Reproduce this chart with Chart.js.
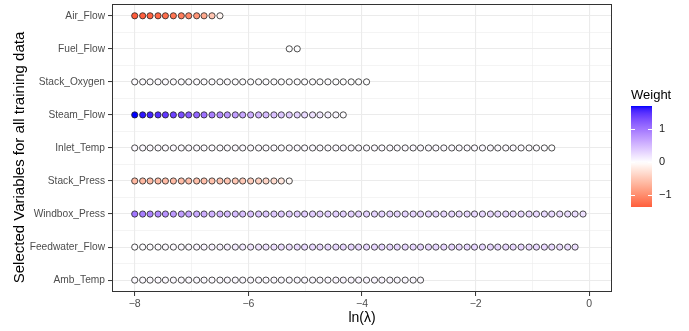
<!DOCTYPE html>
<html><head><meta charset="utf-8">
<script src="https://cdn.jsdelivr.net/npm/chart.js@4"></script>
<style>html,body{margin:0;padding:0;background:#fff}canvas{display:block}</style>
</head><body>
<canvas id="c" width="689" height="331"></canvas>
<script>
// ---------- DATA ----------
const categories = ["Air_Flow","Fuel_Flow","Stack_Oxygen","Steam_Flow","Inlet_Temp","Stack_Press","Windbox_Press","Feedwater_Flow","Amb_Temp"];
const lnLambda = [-8.00,-7.86,-7.73,-7.59,-7.46,-7.32,-7.18,-7.05,-6.91,-6.78,
  -6.64,-6.50,-6.37,-6.23,-6.10,-5.96,-5.82,-5.69,-5.55,-5.42,
  -5.28,-5.14,-5.01,-4.87,-4.74,-4.60,-4.46,-4.33,-4.19,-4.06,
  -3.92,-3.78,-3.65,-3.51,-3.38,-3.24,-3.10,-2.97,-2.83,-2.70,
  -2.56,-2.42,-2.29,-2.15,-2.02,-1.88,-1.74,-1.61,-1.47,-1.34,
  -1.20,-1.06,-0.93,-0.79,-0.66,-0.52,-0.38,-0.25,-0.11];
// index into lnLambda where each variable's path starts
const startIndex = [0,20,0,0,0,0,0,0,0];
const airFlow = [-1.35,-1.33,-1.30,-1.27,-1.23,-1.18,-1.12,-1.04,-0.93,-0.75,-0.52,-0.08];
const fuelFlow = [0.01,0.01];
const stackOxygen = [0.03,0.03,0.03,0.03,0.03,0.03,0.03,0.03,0.03,0.03,
  0.03,0.03,0.03,0.02,0.02,0.02,0.02,0.02,0.02,0.02,
  0.02,0.02,0.02,0.02,0.02,0.02,0.01,0.01,0.01,0.01,0.01];
const steamFlow = [1.70,1.64,1.58,1.52,1.45,1.38,1.30,1.21,1.12,1.03,
  0.94,0.85,0.77,0.70,0.64,0.58,0.53,0.49,0.45,0.41,
  0.37,0.32,0.27,0.22,0.16,0.11,0.06,0.02];
const inletTemp = [0.04,0.04,0.04,0.04,0.04,0.04,0.04,0.04,0.04,0.04,
  0.04,0.04,0.04,0.04,0.04,0.04,0.04,0.04,0.04,0.04,
  0.05,0.05,0.05,0.05,0.05,0.05,0.05,0.05,0.05,0.05,
  0.05,0.05,0.05,0.05,0.05,0.05,0.05,0.05,0.05,0.05,
  0.05,0.05,0.05,0.05,0.05,0.05,0.05,0.04,0.04,0.04,
  0.04,0.03,0.03,0.02,0.01];
const stackPress = [-0.62,-0.62,-0.61,-0.61,-0.60,-0.60,-0.59,-0.58,-0.57,-0.56,
  -0.55,-0.54,-0.52,-0.50,-0.48,-0.45,-0.42,-0.38,-0.32,-0.22,-0.05];
const windboxPress = [1.00,0.95,0.90,0.85,0.80,0.75,0.71,0.67,0.63,0.59,
  0.56,0.53,0.50,0.48,0.46,0.44,0.42,0.41,0.40,0.39,
  0.38,0.37,0.36,0.36,0.35,0.35,0.34,0.34,0.33,0.33,
  0.33,0.32,0.32,0.32,0.31,0.31,0.31,0.31,0.30,0.30,
  0.30,0.30,0.30,0.30,0.29,0.29,0.29,0.29,0.29,0.28,
  0.28,0.28,0.28,0.27,0.27,0.26,0.25,0.24,0.22];
const feedwaterFlow = [0.02,0.02,0.03,0.03,0.04,0.04,0.05,0.06,0.07,0.08,
  0.09,0.10,0.12,0.14,0.16,0.18,0.20,0.22,0.23,0.24,
  0.25,0.26,0.27,0.28,0.28,0.29,0.29,0.30,0.30,0.30,
  0.30,0.30,0.30,0.30,0.30,0.30,0.30,0.30,0.30,0.30,
  0.30,0.30,0.30,0.30,0.30,0.30,0.30,0.30,0.29,0.29,
  0.29,0.29,0.28,0.28,0.27,0.26,0.25,0.23];
const ambTemp = [0.04,0.04,0.04,0.04,0.04,0.04,0.04,0.04,0.04,0.04,
  0.04,0.04,0.05,0.05,0.05,0.05,0.05,0.05,0.05,0.05,
  0.06,0.06,0.06,0.06,0.06,0.06,0.07,0.07,0.07,0.07,
  0.07,0.07,0.07,0.07,0.06,0.06,0.05,0.04];
const weights = [airFlow,fuelFlow,stackOxygen,steamFlow,inletTemp,stackPress,windboxPress,feedwaterFlow,ambTemp];
const xMajorTicks = [-8,-6,-4,-2,0];
const xAllTicks = [-8,-7,-6,-5,-4,-3,-2,-1,0];
const legendTicks = [1,0,-1];

// ---------- COLOUR SCALE (gradient2 in Lab: red - white - blue) ----------
function toLin(c){c/=255;return c<=0.04045?c/12.92:Math.pow((c+0.055)/1.055,2.4);}
function toS(c){c=c<=0.0031308?12.92*c:1.055*Math.pow(c,1/2.4)-0.055;return Math.round(Math.max(0,Math.min(1,c))*255);}
function rgb2lab(r,g,b){r=toLin(r);g=toLin(g);b=toLin(b);
  let X=(0.4124*r+0.3576*g+0.1805*b)/0.95047,Y=0.2126*r+0.7152*g+0.0722*b,Z=(0.0193*r+0.1192*g+0.9505*b)/1.08883;
  const f=t=>t>0.008856?Math.cbrt(t):7.787*t+16/116;
  const fx=f(X),fy=f(Y),fz=f(Z);return [116*fy-16,500*(fx-fy),200*(fy-fz)];}
function lab2rgb(L,a,b){const fy=(L+16)/116,fx=fy+a/500,fz=fy-b/200;
  const fi=t=>t*t*t>0.008856?t*t*t:(t-16/116)/7.787;
  const X=fi(fx)*0.95047,Y=fi(fy),Z=fi(fz)*1.08883;
  const r=3.2406*X-1.5372*Y-0.4986*Z,g=-0.9689*X+1.8758*Y+0.0415*Z,bb=0.0557*X-0.2040*Y+1.0570*Z;
  return [toS(r),toS(g),toS(bb)];}
const LOW=rgb2lab(255,0,0), MID=rgb2lab(255,255,255), HIGH=rgb2lab(0,0,255);
const allW=[].concat(...weights);
const wMin=Math.min(...allW), wMax=Math.max(...allW);
const wAbs=Math.max(Math.abs(wMin),Math.abs(wMax));
function colorOf(w){
  const t=0.5+w/(2*wAbs);
  let A,B,u;
  if(t<0.5){A=LOW;B=MID;u=t/0.5;}else{A=MID;B=HIGH;u=(t-0.5)/0.5;}
  const c=lab2rgb(A[0]+(B[0]-A[0])*u,A[1]+(B[1]-A[1])*u,A[2]+(B[2]-A[2])*u);
  return `rgb(${c[0]},${c[1]},${c[2]})`;
}

// ---------- CHART ----------
const FONT="'Liberation Sans', Arial, Helvetica, sans-serif";
const nCat=categories.length;
const datasets=categories.map((name,k)=>({
  label:name,
  data:weights[k].map((w,j)=>({x:lnLambda[startIndex[k]+j],y:nCat-k})),
  backgroundColor:weights[k].map(colorOf),
  borderColor:'#222',
  borderWidth:0.8,
  pointRadius:3.1,
  pointHoverRadius:3.1
}));

const extras={
  id:'extras',
  afterDraw(chart){
    const ctx=chart.ctx, a=chart.chartArea;
    ctx.save();
    // panel border
    ctx.strokeStyle='#333';ctx.lineWidth=1;
    ctx.strokeRect(Math.round(a.left)+0.5,Math.round(a.top)+0.5,Math.round(a.right-a.left)-1,Math.round(a.bottom-a.top)-1);
    // axis titles
    ctx.fillStyle='#000';
    ctx.font='15px '+FONT;
    ctx.textAlign='center';ctx.textBaseline='middle';
    ctx.save();ctx.translate(19.5,157.5);ctx.rotate(-Math.PI/2);
    ctx.fillText('Selected Variables for all training data',0,0);ctx.restore();
    ctx.font='14px '+FONT;
    ctx.fillText('ln(\u03BB)',(a.left+a.right)/2,318.5);
    // legend
    const bx=631,bw=21,bt=106,bb=207;
    const yOf=v=>bb-(v-wMin)/(wMax-wMin)*(bb-bt);
    const g=ctx.createLinearGradient(0,bb,0,bt);
    for(let i=0;i<=40;i++){const v=wMin+(wMax-wMin)*i/40;g.addColorStop(i/40,colorOf(v));}
    ctx.fillStyle=g;ctx.fillRect(bx,bt,bw,bb-bt);
    ctx.strokeStyle='#fff';ctx.lineWidth=1;
    ctx.font='11px '+FONT;ctx.textAlign='left';ctx.textBaseline='middle';
    legendTicks.forEach(v=>{
      const y=Math.round(yOf(v))+0.5;
      ctx.beginPath();ctx.moveTo(bx,y);ctx.lineTo(bx+4,y);ctx.moveTo(bx+bw-4,y);ctx.lineTo(bx+bw,y);ctx.stroke();
    });
    ctx.fillStyle='#1a1a1a';
    legendTicks.forEach(v=>{ctx.fillText(String(v).replace('-','\u2212'),659,yOf(v));});
    ctx.font='13px '+FONT;ctx.fillStyle='#000';ctx.textBaseline='alphabetic';
    ctx.fillText('Weight',631,98.5);
    ctx.restore();
  }
};

new Chart(document.getElementById('c'),{
  type:'scatter',
  data:{datasets},
  plugins:[extras],
  options:{
    responsive:false,animation:false,devicePixelRatio:1,
    layout:{padding:{left:0,right:77,top:2,bottom:0}},
    plugins:{legend:{display:false},tooltip:{enabled:false}},
    elements:{point:{pointStyle:'circle'}},
    scales:{
      x:{type:'linear',min:-8.4,max:0.4,
        afterBuildTicks:s=>{s.ticks=xAllTicks.map(v=>({value:v}));},
        afterFit:s=>{s.height=39;s.paddingLeft=0;s.paddingRight=0;},
        border:{display:false},
        grid:{color:c=>'#EBEBEB',lineWidth:c=>xMajorTicks.includes(c.tick&&c.tick.value)?1.1:0.55,
          tickColor:c=>xMajorTicks.includes(c.tick&&c.tick.value)?'#333':'rgba(0,0,0,0)',tickLength:4,tickWidth:1,drawTicks:true},
        ticks:{autoSkip:false,maxRotation:0,padding:2,color:'#4D4D4D',font:{family:FONT,size:10.5},
          callback:v=>xMajorTicks.includes(v)?String(v).replace('-','\u2212'):''}
      },
      y:{type:'linear',min:0.64,max:9.36,
        afterBuildTicks:s=>{const t=[];for(let i=2;i<=18;i++)t.push({value:i/2});s.ticks=t;},
        afterFit:s=>{s.width=112;s.paddingTop=0;s.paddingBottom=0;},
        border:{display:false},
        grid:{color:'#EBEBEB',lineWidth:c=>Number.isInteger(c.tick&&c.tick.value)?1.1:0.55,
          tickColor:c=>Number.isInteger(c.tick&&c.tick.value)?'#333':'rgba(0,0,0,0)',tickLength:4,tickWidth:1,drawTicks:true},
        ticks:{autoSkip:false,padding:3,color:'#4D4D4D',font:{family:FONT,size:10.2},
          callback:v=>Number.isInteger(v)?categories[nCat-v]:''}
      }
    }
  }
});
</script>
</body></html>
